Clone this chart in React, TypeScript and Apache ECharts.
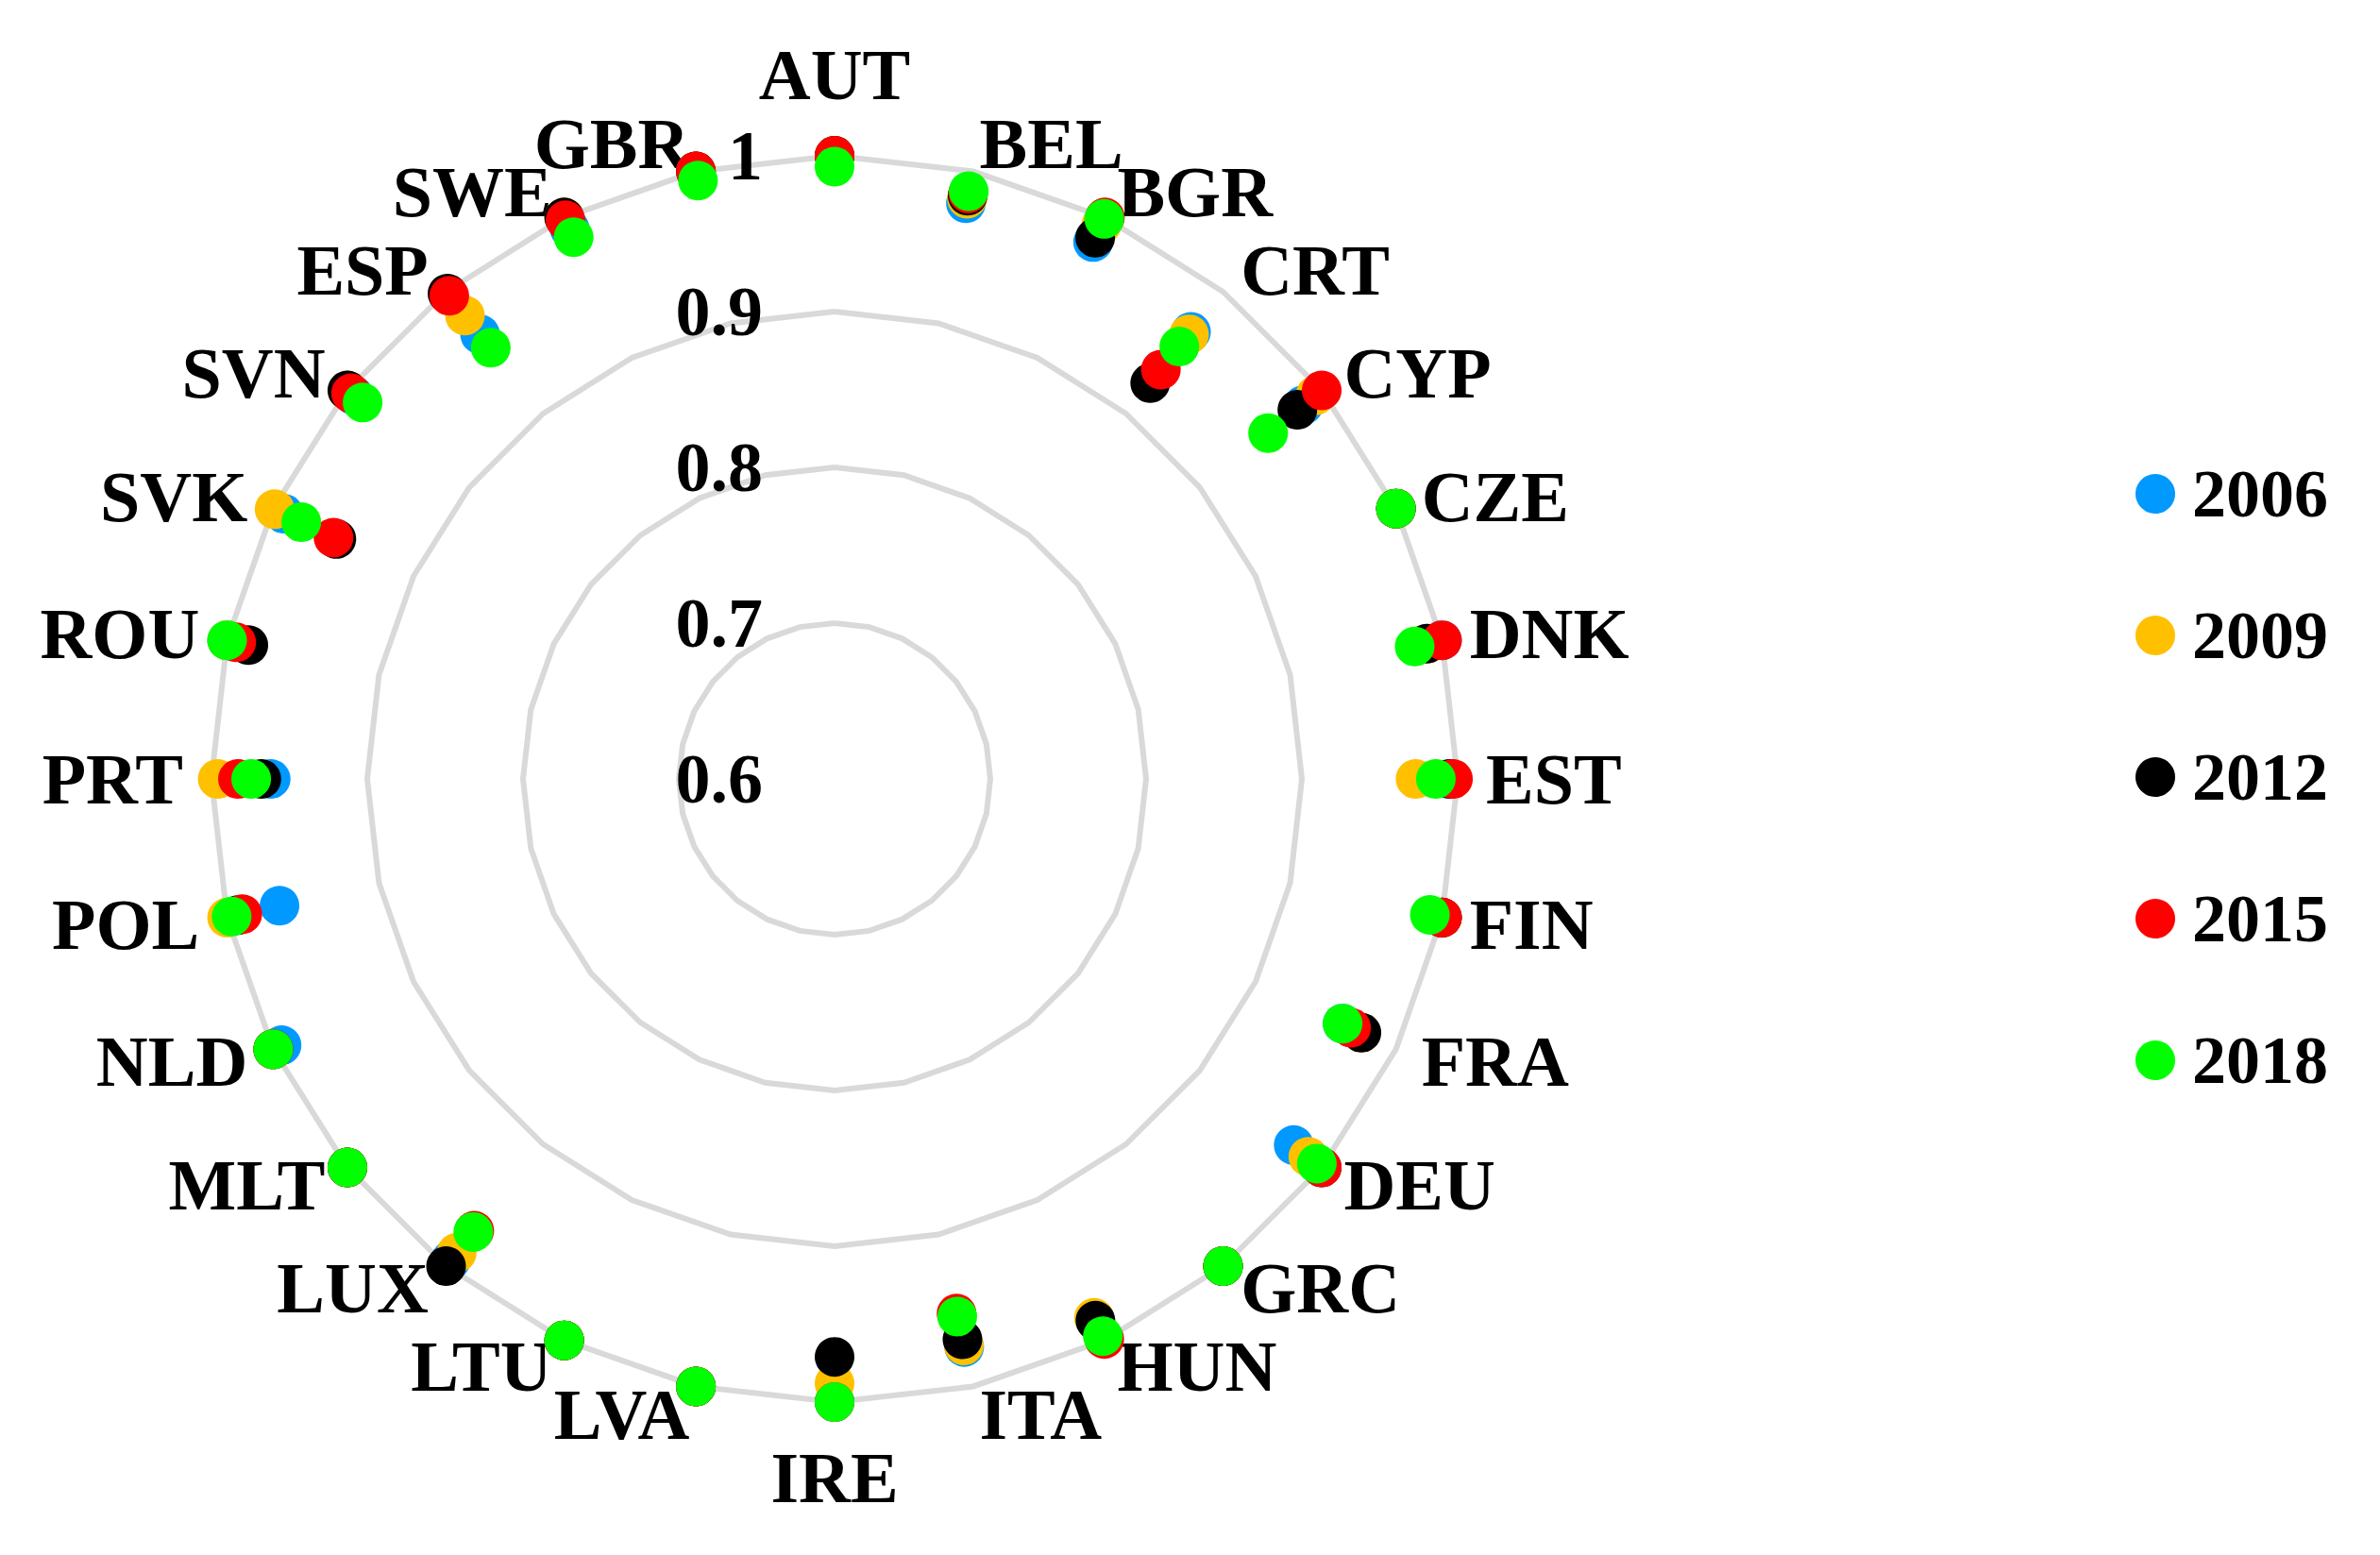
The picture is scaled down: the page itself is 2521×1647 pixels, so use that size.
import React, { useEffect, useRef } from "react";
import * as echarts from "echarts";

// Categories in clockwise order starting at the top
const categories = [
  "AUT", "BEL", "BGR", "CRT", "CYP", "CZE", "DNK", "EST", "FIN", "FRA",
  "DEU", "GRC", "HUN", "ITA", "IRE", "LVA", "LTU", "LUX", "MLT", "NLD",
  "POL", "PRT", "ROU", "SVK", "SVN", "ESP", "SWE", "GBR",
];

const years = ["2006", "2009", "2012", "2015", "2018"];
const colors = ["#0099ff", "#ffc000", "#000000", "#ff0000", "#00ff00"];

const v2006 = [
  1.0, 0.979, 0.9825, 0.967, 0.985, 1.0, 1.0, 0.995, 1.0, 0.962,
  0.977, 1.0, 0.985, 0.974, 1.0, 1.0, 1.0, 0.995, 1.0, 0.994,
  0.9655, 0.962, 1.0, 0.9925, 0.995, 0.965, 0.992, 1.0,
];
const v2009 = [
  1.0, 0.982, 0.995, 0.965, 0.995, 1.0, 0.99, 0.973, 1.0, 0.975,
  0.989, 1.0, 0.984, 0.973, 0.988, 1.0, 1.0, 0.989, 1.0, 1.0,
  1.0, 0.996, 1.0, 0.999, 1.0, 0.9805, 1.0, 1.0,
];
const v2012 = [
  1.0, 0.984, 0.9856, 0.925, 0.98, 1.0, 0.99, 0.995, 1.0, 0.9754,
  1.0, 1.0, 0.986, 0.969, 0.971, 1.0, 1.0, 1.0, 1.0, 1.0,
  0.993, 0.968, 0.986, 0.955, 1.0, 0.9985, 1.0, 1.0,
];
const v2015 = [
  1.0, 0.9855, 1.0, 0.936, 1.0, 1.0, 1.0, 0.997, 1.0, 0.968,
  1.0, 1.0, 0.999, 0.952, 1.0, 1.0, 1.0, 0.971, 1.0, 1.0,
  0.99, 0.983, 0.994, 0.957, 0.997, 0.9967, 0.998, 1.0,
];
const v2018 = [
  0.993, 0.987, 0.999, 0.955, 0.956, 1.0, 0.982, 0.986, 0.992, 0.962,
  0.996, 1.0, 0.997, 0.954, 1.0, 1.0, 1.0, 0.972, 1.0, 1.0,
  0.997, 0.9745, 1.0, 0.98, 0.9875, 0.954, 0.986, 0.994,
];

const seriesValues = [v2006, v2009, v2012, v2015, v2018];

const axisMin = 0.6;
const axisMax = 1;

// ECharts radar goes counter-clockwise, so reverse (keeping the first at the top)
const order = [0, ...categories.map((_, i) => i).slice(1).reverse()];

const FONT = "Liberation Serif";

export default function App() {
  const ref = useRef<HTMLDivElement>(null);

  useEffect(() => {
    if (!ref.current) return;
    const chart = echarts.init(ref.current, undefined, { renderer: "svg" });

    const nameGaps: Record<string, number> = { AUT: 48, IRE: 42 };

    const indicator = order.map((idx) => {
      const name = categories[idx];
      const ind: any = { name, min: axisMin, max: axisMax };
      if (idx !== 0) ind.axisLabel = { show: false };
      if (nameGaps[name] != null) ind.nameGap = nameGaps[name];
      return ind;
    });

    chart.setOption({
      animation: false,
      backgroundColor: "#ffffff",
      legend: {
        orient: "vertical",
        left: 2257,
        top: 481,
        icon: "circle",
        itemWidth: 42,
        itemHeight: 42,
        itemGap: 76,
        selectedMode: false,
        data: years,
        textStyle: {
          color: "#000",
          fontSize: 72,
          fontWeight: "bold",
          fontFamily: FONT,
          lineHeight: 74,
          padding: [0, 0, 0, 13],
        },
      },
      radar: {
        center: [884, 825],
        radius: 660,
        startAngle: 90,
        shape: "polygon",
        splitNumber: 4,
        nameGap: 30,
        indicator,
        axisName: {
          color: "#000",
          fontSize: 76,
          fontWeight: "bold",
          fontFamily: FONT,
        },
        axisLine: { show: false },
        axisTick: { show: false },
        splitArea: { show: false },
        splitLine: { lineStyle: { color: "#d9d9d9", width: 6 } },
        axisLabel: {
          show: true,
          color: "#000",
          fontSize: 74,
          fontWeight: "bold",
          fontFamily: FONT,
          margin: 76,
        },
      },
      series: years.map((y, k) => ({
        type: "radar",
        name: y,
        silent: true,
        symbol: "circle",
        symbolSize: 42,
        itemStyle: { color: colors[k], borderWidth: 0 },
        lineStyle: { width: 0, opacity: 0 },
        data: [
          {
            name: y,
            value: order.map((idx) => seriesValues[k][idx]),
          },
        ],
      })),
    });

    return () => chart.dispose();
  }, []);

  return (
    <div
      ref={ref}
      style={{ position: "fixed", left: 0, top: 0, width: 2521, height: 1647 }}
    />
  );
}
